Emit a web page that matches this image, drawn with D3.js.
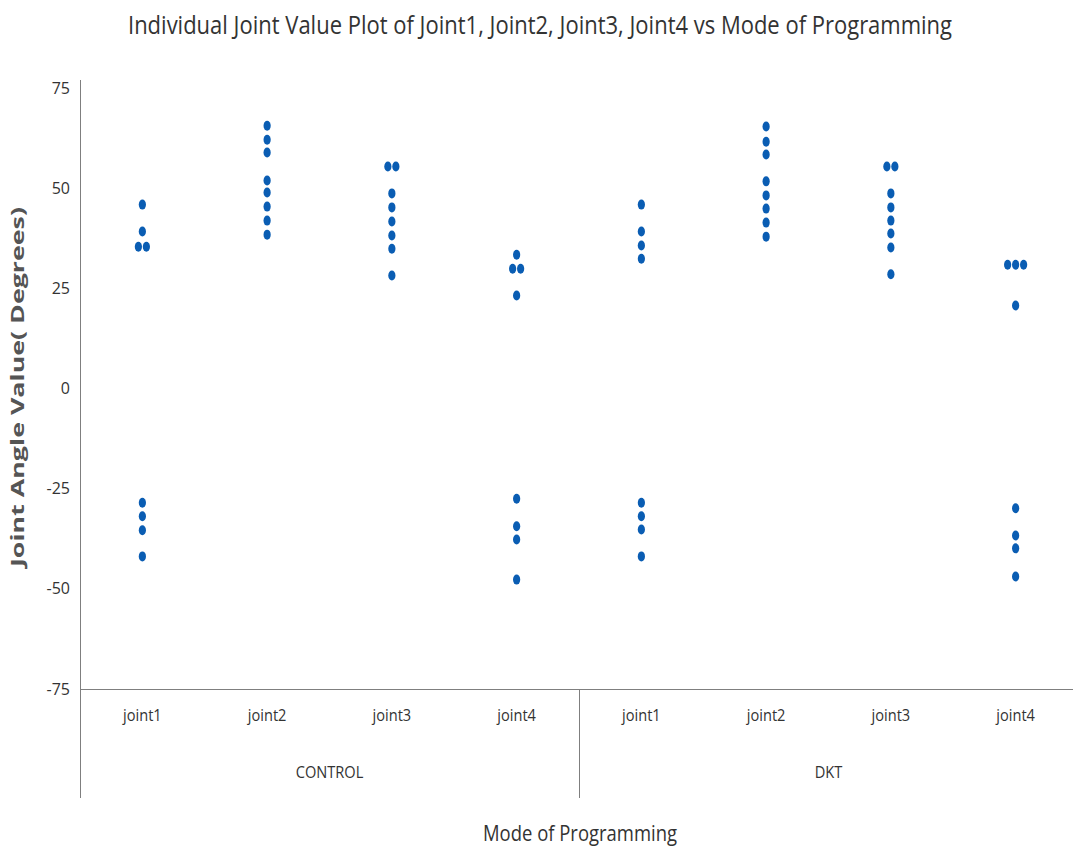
<!DOCTYPE html>
<html>
<head>
<meta charset="utf-8">
<script src="https://cdn.jsdelivr.net/npm/d3@7"></script>
<style>
  html, body { margin: 0; padding: 0; background: #fff; }
  svg { display: block; }
  text { font-family: "Open Sans", "Noto Sans", sans-serif; }
</style>
</head>
<body>
<svg id="chart" width="1073" height="854"></svg>
<script>
// Joint angle observations per programming mode and joint
const modes = ["CONTROL", "DKT"];
const joints = ["joint1", "joint2", "joint3", "joint4"];
const yTicks = [75, 50, 25, 0, -25, -50, -75];

const controlJoint1 = [45.9, 39.2, 35.4, 35.4, -28.5, -31.9, -35.4, -41.9];
const controlJoint2 = [65.6, 62.1, 58.9, 51.9, 48.9, 45.4, 41.9, 38.4];
const controlJoint3 = [55.4, 55.4, 48.7, 45.2, 41.7, 38.2, 34.9, 28.2];
const controlJoint4 = [33.4, 29.9, 29.9, 23.2, -27.5, -34.4, -37.7, -47.7];
const dktJoint1 = [45.9, 39.2, 35.7, 32.4, -28.5, -31.9, -35.2, -41.9];
const dktJoint2 = [65.4, 61.6, 58.4, 51.7, 48.2, 44.9, 41.4, 37.9];
const dktJoint3 = [55.4, 55.4, 48.7, 45.2, 41.9, 38.7, 35.2, 28.5];
const dktJoint4 = [30.9, 30.9, 30.9, 20.7, -29.9, -36.7, -39.9, -46.9];

const seriesValues = {
  CONTROL: [controlJoint1, controlJoint2, controlJoint3, controlJoint4],
  DKT: [dktJoint1, dktJoint2, dktJoint3, dktJoint4]
};

const svg = d3.select("#chart");
const axisColor = "#7f7f7f";
const dotColor = "#0a5db3";
const textColor = "#333";

const plotLeft = 80, plotRight = 1078, plotTop = 88, plotBottom = 689;

// Condensed look: squeeze a text horizontally around its anchor point
function condensed(parent, str, cx, cy, size, squeeze) {
  return parent.append("text")
    .attr("transform", `translate(${cx},${cy}) scale(${squeeze},1)`)
    .attr("text-anchor", "middle")
    .attr("font-size", size)
    .attr("fill", textColor)
    .text(str);
}

// Nested categorical x: mode -> joint
const cells = [];
modes.forEach(m => joints.forEach(j => cells.push(m + "|" + j)));
const x = d3.scaleBand().domain(cells).range([plotLeft, plotRight]);
const xMode = d3.scaleBand().domain(modes).range([plotLeft, plotRight]);
const y = d3.scaleLinear().domain([-75, 75]).range([plotBottom, plotTop]);

// Title
condensed(svg, "Individual Joint Value Plot of Joint1, Joint2, Joint3, Joint4 vs Mode of Programming",
  540, 34, 25, 0.88);

// Y axis (labels only, no tick marks)
const yAxis = d3.axisLeft(y).tickValues(yTicks).tickSize(0).tickPadding(10)
  .tickFormat(d => String(d));
const gy = svg.append("g").attr("transform", `translate(${plotLeft},0)`).call(yAxis);
gy.select(".domain").remove();
gy.selectAll("text").attr("font-size", 16).attr("fill", textColor)
  .attr("font-family", "'Open Sans', sans-serif");

// Axis frame lines
svg.append("line").attr("x1", plotLeft + 0.5).attr("x2", plotLeft + 0.5).attr("y1", 80).attr("y2", 798)
  .attr("stroke", axisColor).attr("stroke-width", 1);
svg.append("line").attr("x1", plotLeft).attr("x2", 1073).attr("y1", plotBottom + 0.5).attr("y2", plotBottom + 0.5)
  .attr("stroke", axisColor).attr("stroke-width", 1);
svg.append("line").attr("x1", xMode("DKT") + 0.5).attr("x2", xMode("DKT") + 0.5)
  .attr("y1", plotBottom).attr("y2", 798)
  .attr("stroke", axisColor).attr("stroke-width", 1);

// Joint labels
const gJoint = svg.append("g");
cells.forEach(c => condensed(gJoint, c.split("|")[1], x(c) + x.bandwidth() / 2, 721, 17, 0.86));

// Mode labels
const gMode = svg.append("g");
modes.forEach(m => condensed(gMode, m, xMode(m) + xMode.bandwidth() / 2, 778, 17, 0.86));

// Axis titles
condensed(svg, "Mode of Programming", 580, 841, 22, 0.84);

svg.append("text")
  .attr("transform", "translate(24,387) rotate(-90)")
  .attr("text-anchor", "middle")
  .attr("font-size", 17)
  .attr("font-weight", "bold")
  .attr("fill", "#555")
  .attr("font-family", "'DejaVu Sans', sans-serif")
  .attr("textLength", 360).attr("lengthAdjust", "spacingAndGlyphs")
  .text("Joint Angle Value( Degrees)");

// Individual value dots; tied values sit side by side
const points = [];
modes.forEach(m => joints.forEach((j, ji) => {
  const vals = seriesValues[m][ji];
  const counts = d3.rollup(vals, v => v.length, v => v);
  const seen = new Map();
  vals.forEach(v => {
    const n = counts.get(v);
    const k = seen.get(v) || 0;
    seen.set(v, k + 1);
    points.push({ cell: m + "|" + j, value: v, offset: (k - (n - 1) / 2) * 8 });
  });
}));

svg.append("g").selectAll("ellipse").data(points).join("ellipse")
  .attr("cx", d => x(d.cell) + x.bandwidth() / 2 + d.offset)
  .attr("cy", d => y(d.value))
  .attr("rx", 3.6)
  .attr("ry", 5)
  .attr("fill", dotColor);
</script>
</body>
</html>
